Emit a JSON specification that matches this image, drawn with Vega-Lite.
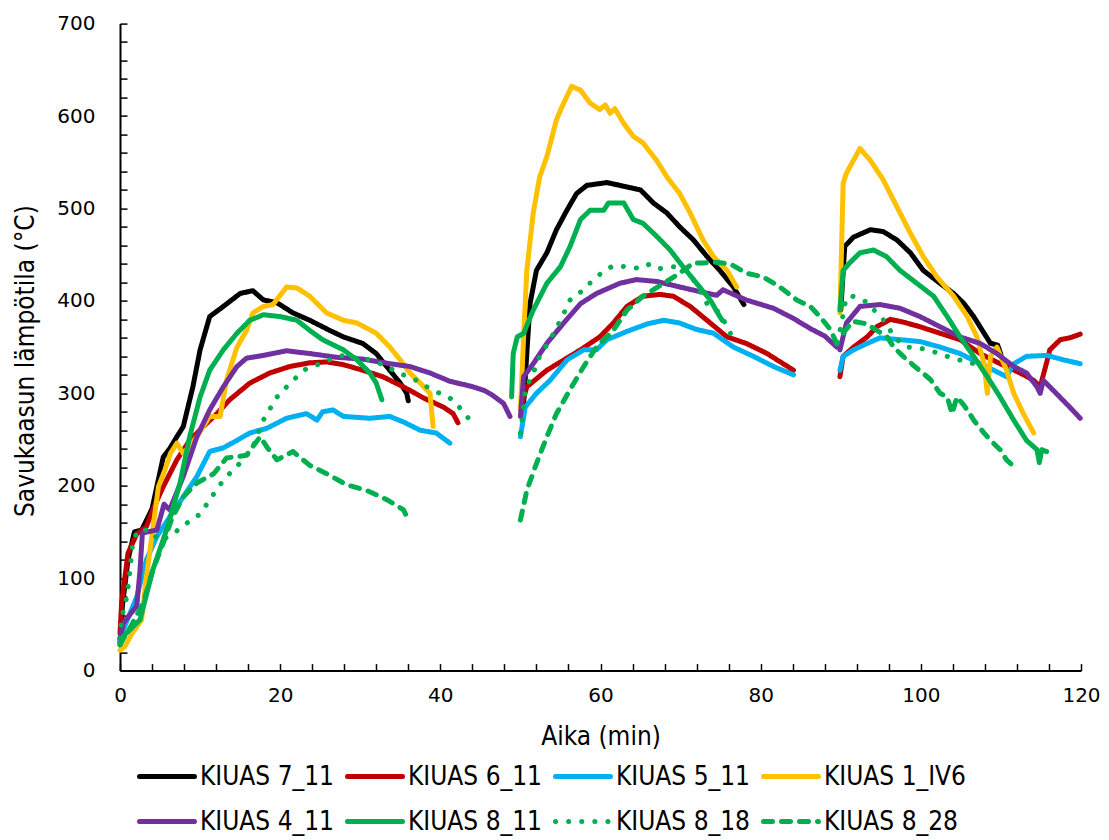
{
"$schema": "https://vega.github.io/schema/vega-lite/v6.json",
"width": 961, "height": 647,
"autosize": "none",
"padding": {"left": 120, "top": 23.6, "right": 28, "bottom": 169.4},
"background": "white",
"config": {"view": {"stroke": null}},
"datasets": {"d": [
{"s":"KIUAS 7_11","g":1,"x":0,"y":30},{"s":"KIUAS 7_11","g":1,"x":0.3,"y":70},{"s":"KIUAS 7_11","g":1,"x":1,"y":120},{"s":"KIUAS 7_11","g":1,"x":1.8,"y":150},{"s":"KIUAS 7_11","g":1,"x":2.7,"y":152},{"s":"KIUAS 7_11","g":1,"x":4,"y":175},{"s":"KIUAS 7_11","g":1,"x":5.4,"y":231},{"s":"KIUAS 7_11","g":1,"x":6.2,"y":240},{"s":"KIUAS 7_11","g":1,"x":7.1,"y":253},{"s":"KIUAS 7_11","g":1,"x":7.9,"y":264},{"s":"KIUAS 7_11","g":1,"x":9.1,"y":307},{"s":"KIUAS 7_11","g":1,"x":10,"y":347},{"s":"KIUAS 7_11","g":1,"x":11.2,"y":383},{"s":"KIUAS 7_11","g":1,"x":12.9,"y":394},{"s":"KIUAS 7_11","g":1,"x":15,"y":408},{"s":"KIUAS 7_11","g":1,"x":16.6,"y":411},{"s":"KIUAS 7_11","g":1,"x":17.9,"y":401},{"s":"KIUAS 7_11","g":1,"x":19.6,"y":398},{"s":"KIUAS 7_11","g":1,"x":21.6,"y":387},{"s":"KIUAS 7_11","g":1,"x":23.7,"y":379},{"s":"KIUAS 7_11","g":1,"x":26.2,"y":368},{"s":"KIUAS 7_11","g":1,"x":27.9,"y":361},{"s":"KIUAS 7_11","g":1,"x":30.3,"y":354},{"s":"KIUAS 7_11","g":1,"x":32,"y":343},{"s":"KIUAS 7_11","g":1,"x":33.3,"y":329},{"s":"KIUAS 7_11","g":1,"x":35,"y":311},{"s":"KIUAS 7_11","g":1,"x":35.8,"y":300},{"s":"KIUAS 7_11","g":1,"x":36,"y":292},
{"s":"KIUAS 7_11","g":2,"x":50.4,"y":289},{"s":"KIUAS 7_11","g":2,"x":50.8,"y":343},{"s":"KIUAS 7_11","g":2,"x":51.2,"y":397},{"s":"KIUAS 7_11","g":2,"x":52,"y":433},{"s":"KIUAS 7_11","g":2,"x":53.3,"y":452},{"s":"KIUAS 7_11","g":2,"x":54.5,"y":477},{"s":"KIUAS 7_11","g":2,"x":55.8,"y":498},{"s":"KIUAS 7_11","g":2,"x":57,"y":516},{"s":"KIUAS 7_11","g":2,"x":58.3,"y":525},{"s":"KIUAS 7_11","g":2,"x":60.8,"y":528},{"s":"KIUAS 7_11","g":2,"x":62.9,"y":524},{"s":"KIUAS 7_11","g":2,"x":65,"y":520},{"s":"KIUAS 7_11","g":2,"x":66.6,"y":506},{"s":"KIUAS 7_11","g":2,"x":68.3,"y":495},{"s":"KIUAS 7_11","g":2,"x":69.9,"y":480},{"s":"KIUAS 7_11","g":2,"x":71.6,"y":466},{"s":"KIUAS 7_11","g":2,"x":73.3,"y":448},{"s":"KIUAS 7_11","g":2,"x":74.9,"y":433},{"s":"KIUAS 7_11","g":2,"x":76.6,"y":415},{"s":"KIUAS 7_11","g":2,"x":77.9,"y":396},
{"s":"KIUAS 7_11","g":3,"x":90,"y":390},{"s":"KIUAS 7_11","g":3,"x":90.5,"y":459},{"s":"KIUAS 7_11","g":3,"x":91.6,"y":469},{"s":"KIUAS 7_11","g":3,"x":93.7,"y":477},{"s":"KIUAS 7_11","g":3,"x":95.3,"y":475},{"s":"KIUAS 7_11","g":3,"x":97,"y":466},{"s":"KIUAS 7_11","g":3,"x":98.7,"y":452},{"s":"KIUAS 7_11","g":3,"x":100.3,"y":433},{"s":"KIUAS 7_11","g":3,"x":102.4,"y":419},{"s":"KIUAS 7_11","g":3,"x":104.1,"y":408},{"s":"KIUAS 7_11","g":3,"x":105.4,"y":397},{"s":"KIUAS 7_11","g":3,"x":106.6,"y":383},{"s":"KIUAS 7_11","g":3,"x":107.9,"y":365},{"s":"KIUAS 7_11","g":3,"x":108.7,"y":354},{"s":"KIUAS 7_11","g":3,"x":109.6,"y":352},{"s":"KIUAS 7_11","g":3,"x":110,"y":342},
{"s":"KIUAS 6_11","g":1,"x":0,"y":40},{"s":"KIUAS 6_11","g":1,"x":0.2,"y":73},{"s":"KIUAS 6_11","g":1,"x":1,"y":127},{"s":"KIUAS 6_11","g":1,"x":2.1,"y":148},{"s":"KIUAS 6_11","g":1,"x":3.3,"y":156},{"s":"KIUAS 6_11","g":1,"x":4.1,"y":174},{"s":"KIUAS 6_11","g":1,"x":5.4,"y":199},{"s":"KIUAS 6_11","g":1,"x":7.1,"y":228},{"s":"KIUAS 6_11","g":1,"x":8.7,"y":249},{"s":"KIUAS 6_11","g":1,"x":10.4,"y":264},{"s":"KIUAS 6_11","g":1,"x":12.1,"y":278},{"s":"KIUAS 6_11","g":1,"x":13.7,"y":293},{"s":"KIUAS 6_11","g":1,"x":16.2,"y":311},{"s":"KIUAS 6_11","g":1,"x":18.7,"y":322},{"s":"KIUAS 6_11","g":1,"x":21.2,"y":329},{"s":"KIUAS 6_11","g":1,"x":23.7,"y":333},{"s":"KIUAS 6_11","g":1,"x":25.8,"y":334},{"s":"KIUAS 6_11","g":1,"x":27.9,"y":331},{"s":"KIUAS 6_11","g":1,"x":30.3,"y":325},{"s":"KIUAS 6_11","g":1,"x":32.8,"y":318},{"s":"KIUAS 6_11","g":1,"x":35.4,"y":307},{"s":"KIUAS 6_11","g":1,"x":37.9,"y":295},{"s":"KIUAS 6_11","g":1,"x":40.4,"y":285},{"s":"KIUAS 6_11","g":1,"x":41.6,"y":278},{"s":"KIUAS 6_11","g":1,"x":42.2,"y":268},
{"s":"KIUAS 6_11","g":2,"x":50.2,"y":289},{"s":"KIUAS 6_11","g":2,"x":50.8,"y":307},{"s":"KIUAS 6_11","g":2,"x":53.3,"y":325},{"s":"KIUAS 6_11","g":2,"x":55.4,"y":336},{"s":"KIUAS 6_11","g":2,"x":57.5,"y":347},{"s":"KIUAS 6_11","g":2,"x":59.9,"y":361},{"s":"KIUAS 6_11","g":2,"x":61.6,"y":376},{"s":"KIUAS 6_11","g":2,"x":63.3,"y":394},{"s":"KIUAS 6_11","g":2,"x":65.3,"y":405},{"s":"KIUAS 6_11","g":2,"x":67.4,"y":407},{"s":"KIUAS 6_11","g":2,"x":69.1,"y":405},{"s":"KIUAS 6_11","g":2,"x":71.2,"y":394},{"s":"KIUAS 6_11","g":2,"x":73.3,"y":379},{"s":"KIUAS 6_11","g":2,"x":75.8,"y":361},{"s":"KIUAS 6_11","g":2,"x":78.2,"y":354},{"s":"KIUAS 6_11","g":2,"x":80.8,"y":343},{"s":"KIUAS 6_11","g":2,"x":84.1,"y":325},
{"s":"KIUAS 6_11","g":3,"x":89.9,"y":318},{"s":"KIUAS 6_11","g":3,"x":90.3,"y":340},{"s":"KIUAS 6_11","g":3,"x":91.6,"y":350},{"s":"KIUAS 6_11","g":3,"x":93.3,"y":361},{"s":"KIUAS 6_11","g":3,"x":94.5,"y":372},{"s":"KIUAS 6_11","g":3,"x":96.2,"y":380},{"s":"KIUAS 6_11","g":3,"x":97.8,"y":377},{"s":"KIUAS 6_11","g":3,"x":99.9,"y":372},{"s":"KIUAS 6_11","g":3,"x":102.4,"y":365},{"s":"KIUAS 6_11","g":3,"x":104.9,"y":358},{"s":"KIUAS 6_11","g":3,"x":107.4,"y":343},{"s":"KIUAS 6_11","g":3,"x":109.9,"y":332},{"s":"KIUAS 6_11","g":3,"x":112.4,"y":322},{"s":"KIUAS 6_11","g":3,"x":114.1,"y":314},{"s":"KIUAS 6_11","g":3,"x":114.9,"y":307},{"s":"KIUAS 6_11","g":3,"x":115.7,"y":333},{"s":"KIUAS 6_11","g":3,"x":116.1,"y":347},{"s":"KIUAS 6_11","g":3,"x":117.4,"y":358},{"s":"KIUAS 6_11","g":3,"x":118.6,"y":360},{"s":"KIUAS 6_11","g":3,"x":119.9,"y":364},
{"s":"KIUAS 5_11","g":1,"x":0,"y":33},{"s":"KIUAS 5_11","g":1,"x":0.4,"y":44},{"s":"KIUAS 5_11","g":1,"x":2.1,"y":80},{"s":"KIUAS 5_11","g":1,"x":3.3,"y":120},{"s":"KIUAS 5_11","g":1,"x":4.6,"y":145},{"s":"KIUAS 5_11","g":1,"x":6.2,"y":166},{"s":"KIUAS 5_11","g":1,"x":7.9,"y":188},{"s":"KIUAS 5_11","g":1,"x":9.6,"y":210},{"s":"KIUAS 5_11","g":1,"x":11.2,"y":237},{"s":"KIUAS 5_11","g":1,"x":12.9,"y":241},{"s":"KIUAS 5_11","g":1,"x":14.6,"y":249},{"s":"KIUAS 5_11","g":1,"x":16.2,"y":257},{"s":"KIUAS 5_11","g":1,"x":18.3,"y":262},{"s":"KIUAS 5_11","g":1,"x":20.8,"y":273},{"s":"KIUAS 5_11","g":1,"x":23.3,"y":278},{"s":"KIUAS 5_11","g":1,"x":24.6,"y":271},{"s":"KIUAS 5_11","g":1,"x":25.3,"y":280},{"s":"KIUAS 5_11","g":1,"x":26.6,"y":282},{"s":"KIUAS 5_11","g":1,"x":27.9,"y":275},{"s":"KIUAS 5_11","g":1,"x":31.2,"y":273},{"s":"KIUAS 5_11","g":1,"x":33.7,"y":275},{"s":"KIUAS 5_11","g":1,"x":35.4,"y":269},{"s":"KIUAS 5_11","g":1,"x":37.5,"y":260},{"s":"KIUAS 5_11","g":1,"x":39.5,"y":257},{"s":"KIUAS 5_11","g":1,"x":41.2,"y":246},
{"s":"KIUAS 5_11","g":2,"x":50,"y":253},{"s":"KIUAS 5_11","g":2,"x":50.6,"y":285},{"s":"KIUAS 5_11","g":2,"x":52,"y":300},{"s":"KIUAS 5_11","g":2,"x":53.7,"y":314},{"s":"KIUAS 5_11","g":2,"x":55.8,"y":336},{"s":"KIUAS 5_11","g":2,"x":57.9,"y":347},{"s":"KIUAS 5_11","g":2,"x":59.5,"y":347},{"s":"KIUAS 5_11","g":2,"x":60.8,"y":358},{"s":"KIUAS 5_11","g":2,"x":63.3,"y":367},{"s":"KIUAS 5_11","g":2,"x":65.8,"y":375},{"s":"KIUAS 5_11","g":2,"x":67.9,"y":379},{"s":"KIUAS 5_11","g":2,"x":69.9,"y":376},{"s":"KIUAS 5_11","g":2,"x":72,"y":369},{"s":"KIUAS 5_11","g":2,"x":74.1,"y":365},{"s":"KIUAS 5_11","g":2,"x":76.6,"y":350},{"s":"KIUAS 5_11","g":2,"x":79.1,"y":340},{"s":"KIUAS 5_11","g":2,"x":81.6,"y":329},{"s":"KIUAS 5_11","g":2,"x":84.1,"y":320},
{"s":"KIUAS 5_11","g":3,"x":89.9,"y":325},{"s":"KIUAS 5_11","g":3,"x":90.3,"y":340},{"s":"KIUAS 5_11","g":3,"x":91.6,"y":347},{"s":"KIUAS 5_11","g":3,"x":93.3,"y":354},{"s":"KIUAS 5_11","g":3,"x":94.9,"y":360},{"s":"KIUAS 5_11","g":3,"x":97.4,"y":358},{"s":"KIUAS 5_11","g":3,"x":99.9,"y":356},{"s":"KIUAS 5_11","g":3,"x":102.4,"y":350},{"s":"KIUAS 5_11","g":3,"x":104.9,"y":343},{"s":"KIUAS 5_11","g":3,"x":107.4,"y":332},{"s":"KIUAS 5_11","g":3,"x":109.1,"y":325},{"s":"KIUAS 5_11","g":3,"x":110.7,"y":318},{"s":"KIUAS 5_11","g":3,"x":111.6,"y":332},{"s":"KIUAS 5_11","g":3,"x":113.2,"y":340},{"s":"KIUAS 5_11","g":3,"x":115.7,"y":341},{"s":"KIUAS 5_11","g":3,"x":117.9,"y":336},{"s":"KIUAS 5_11","g":3,"x":119.9,"y":332},
{"s":"KIUAS 1_IV6","g":1,"x":0,"y":22},{"s":"KIUAS 1_IV6","g":1,"x":0.6,"y":26},{"s":"KIUAS 1_IV6","g":1,"x":1.5,"y":40},{"s":"KIUAS 1_IV6","g":1,"x":2.7,"y":55},{"s":"KIUAS 1_IV6","g":1,"x":3.2,"y":95},{"s":"KIUAS 1_IV6","g":1,"x":3.7,"y":127},{"s":"KIUAS 1_IV6","g":1,"x":4.2,"y":160},{"s":"KIUAS 1_IV6","g":1,"x":4.8,"y":199},{"s":"KIUAS 1_IV6","g":1,"x":5.6,"y":217},{"s":"KIUAS 1_IV6","g":1,"x":6.3,"y":235},{"s":"KIUAS 1_IV6","g":1,"x":7.1,"y":246},{"s":"KIUAS 1_IV6","g":1,"x":7.9,"y":235},{"s":"KIUAS 1_IV6","g":1,"x":9.6,"y":253},{"s":"KIUAS 1_IV6","g":1,"x":11.2,"y":275},{"s":"KIUAS 1_IV6","g":1,"x":12.5,"y":275},{"s":"KIUAS 1_IV6","g":1,"x":13.3,"y":314},{"s":"KIUAS 1_IV6","g":1,"x":14.6,"y":350},{"s":"KIUAS 1_IV6","g":1,"x":15.8,"y":368},{"s":"KIUAS 1_IV6","g":1,"x":16.6,"y":387},{"s":"KIUAS 1_IV6","g":1,"x":17.9,"y":394},{"s":"KIUAS 1_IV6","g":1,"x":19.1,"y":396},{"s":"KIUAS 1_IV6","g":1,"x":20.8,"y":415},{"s":"KIUAS 1_IV6","g":1,"x":22.1,"y":414},{"s":"KIUAS 1_IV6","g":1,"x":23.7,"y":405},{"s":"KIUAS 1_IV6","g":1,"x":25.8,"y":387},{"s":"KIUAS 1_IV6","g":1,"x":27.9,"y":379},{"s":"KIUAS 1_IV6","g":1,"x":29.6,"y":376},{"s":"KIUAS 1_IV6","g":1,"x":32,"y":365},{"s":"KIUAS 1_IV6","g":1,"x":33.7,"y":350},{"s":"KIUAS 1_IV6","g":1,"x":35,"y":336},{"s":"KIUAS 1_IV6","g":1,"x":36.2,"y":322},{"s":"KIUAS 1_IV6","g":1,"x":37.5,"y":311},{"s":"KIUAS 1_IV6","g":1,"x":38.7,"y":300},{"s":"KIUAS 1_IV6","g":1,"x":39.1,"y":264},
{"s":"KIUAS 1_IV6","g":2,"x":50,"y":282},{"s":"KIUAS 1_IV6","g":2,"x":50.4,"y":361},{"s":"KIUAS 1_IV6","g":2,"x":50.8,"y":433},{"s":"KIUAS 1_IV6","g":2,"x":51.6,"y":495},{"s":"KIUAS 1_IV6","g":2,"x":52.4,"y":534},{"s":"KIUAS 1_IV6","g":2,"x":53.3,"y":556},{"s":"KIUAS 1_IV6","g":2,"x":54.5,"y":596},{"s":"KIUAS 1_IV6","g":2,"x":55.4,"y":614},{"s":"KIUAS 1_IV6","g":2,"x":56.4,"y":632},{"s":"KIUAS 1_IV6","g":2,"x":57.5,"y":628},{"s":"KIUAS 1_IV6","g":2,"x":58.7,"y":614},{"s":"KIUAS 1_IV6","g":2,"x":59.9,"y":607},{"s":"KIUAS 1_IV6","g":2,"x":60.6,"y":612},{"s":"KIUAS 1_IV6","g":2,"x":61.2,"y":603},{"s":"KIUAS 1_IV6","g":2,"x":61.8,"y":608},{"s":"KIUAS 1_IV6","g":2,"x":62.9,"y":592},{"s":"KIUAS 1_IV6","g":2,"x":64.1,"y":578},{"s":"KIUAS 1_IV6","g":2,"x":65.3,"y":571},{"s":"KIUAS 1_IV6","g":2,"x":67,"y":552},{"s":"KIUAS 1_IV6","g":2,"x":68.3,"y":534},{"s":"KIUAS 1_IV6","g":2,"x":69.9,"y":516},{"s":"KIUAS 1_IV6","g":2,"x":71.2,"y":495},{"s":"KIUAS 1_IV6","g":2,"x":72.8,"y":466},{"s":"KIUAS 1_IV6","g":2,"x":74.1,"y":448},{"s":"KIUAS 1_IV6","g":2,"x":75.8,"y":433},{"s":"KIUAS 1_IV6","g":2,"x":77,"y":415},
{"s":"KIUAS 1_IV6","g":3,"x":89.9,"y":387},{"s":"KIUAS 1_IV6","g":3,"x":90.3,"y":527},{"s":"KIUAS 1_IV6","g":3,"x":90.7,"y":538},{"s":"KIUAS 1_IV6","g":3,"x":92.4,"y":565},{"s":"KIUAS 1_IV6","g":3,"x":93.7,"y":552},{"s":"KIUAS 1_IV6","g":3,"x":95.3,"y":531},{"s":"KIUAS 1_IV6","g":3,"x":97,"y":502},{"s":"KIUAS 1_IV6","g":3,"x":98.7,"y":473},{"s":"KIUAS 1_IV6","g":3,"x":100.3,"y":448},{"s":"KIUAS 1_IV6","g":3,"x":102,"y":426},{"s":"KIUAS 1_IV6","g":3,"x":104.1,"y":405},{"s":"KIUAS 1_IV6","g":3,"x":105.8,"y":383},{"s":"KIUAS 1_IV6","g":3,"x":107,"y":361},{"s":"KIUAS 1_IV6","g":3,"x":107.9,"y":332},{"s":"KIUAS 1_IV6","g":3,"x":108.3,"y":300},{"s":"KIUAS 1_IV6","g":3,"x":108.7,"y":340},{"s":"KIUAS 1_IV6","g":3,"x":109.5,"y":350},{"s":"KIUAS 1_IV6","g":3,"x":110.7,"y":325},{"s":"KIUAS 1_IV6","g":3,"x":111.6,"y":300},{"s":"KIUAS 1_IV6","g":3,"x":112.8,"y":278},{"s":"KIUAS 1_IV6","g":3,"x":114.1,"y":257},
{"s":"KIUAS 4_11","g":1,"x":0,"y":35},{"s":"KIUAS 4_11","g":1,"x":0.4,"y":51},{"s":"KIUAS 4_11","g":1,"x":1,"y":58},{"s":"KIUAS 4_11","g":1,"x":2.1,"y":70},{"s":"KIUAS 4_11","g":1,"x":2.5,"y":109},{"s":"KIUAS 4_11","g":1,"x":2.8,"y":149},{"s":"KIUAS 4_11","g":1,"x":4.6,"y":152},{"s":"KIUAS 4_11","g":1,"x":5.5,"y":180},{"s":"KIUAS 4_11","g":1,"x":6.2,"y":174},{"s":"KIUAS 4_11","g":1,"x":7.9,"y":210},{"s":"KIUAS 4_11","g":1,"x":9.6,"y":253},{"s":"KIUAS 4_11","g":1,"x":11.2,"y":282},{"s":"KIUAS 4_11","g":1,"x":12.9,"y":307},{"s":"KIUAS 4_11","g":1,"x":14.6,"y":329},{"s":"KIUAS 4_11","g":1,"x":15.8,"y":338},{"s":"KIUAS 4_11","g":1,"x":17.9,"y":341},{"s":"KIUAS 4_11","g":1,"x":20.8,"y":346},{"s":"KIUAS 4_11","g":1,"x":23.7,"y":343},{"s":"KIUAS 4_11","g":1,"x":27,"y":339},{"s":"KIUAS 4_11","g":1,"x":30.3,"y":337},{"s":"KIUAS 4_11","g":1,"x":33.7,"y":332},{"s":"KIUAS 4_11","g":1,"x":36.2,"y":329},{"s":"KIUAS 4_11","g":1,"x":38.7,"y":322},{"s":"KIUAS 4_11","g":1,"x":41.2,"y":313},{"s":"KIUAS 4_11","g":1,"x":44.1,"y":307},{"s":"KIUAS 4_11","g":1,"x":45.5,"y":303},{"s":"KIUAS 4_11","g":1,"x":46.5,"y":298},{"s":"KIUAS 4_11","g":1,"x":47.9,"y":289},{"s":"KIUAS 4_11","g":1,"x":48.7,"y":275},
{"s":"KIUAS 4_11","g":2,"x":50,"y":275},{"s":"KIUAS 4_11","g":2,"x":50.4,"y":318},{"s":"KIUAS 4_11","g":2,"x":51.6,"y":332},{"s":"KIUAS 4_11","g":2,"x":53.3,"y":354},{"s":"KIUAS 4_11","g":2,"x":55.4,"y":376},{"s":"KIUAS 4_11","g":2,"x":57.5,"y":397},{"s":"KIUAS 4_11","g":2,"x":59.5,"y":408},{"s":"KIUAS 4_11","g":2,"x":62.4,"y":419},{"s":"KIUAS 4_11","g":2,"x":64.5,"y":423},{"s":"KIUAS 4_11","g":2,"x":67,"y":421},{"s":"KIUAS 4_11","g":2,"x":69.9,"y":415},{"s":"KIUAS 4_11","g":2,"x":72.4,"y":410},{"s":"KIUAS 4_11","g":2,"x":74.5,"y":406},{"s":"KIUAS 4_11","g":2,"x":75.3,"y":412},{"s":"KIUAS 4_11","g":2,"x":78.2,"y":401},{"s":"KIUAS 4_11","g":2,"x":81.6,"y":392},{"s":"KIUAS 4_11","g":2,"x":84.1,"y":381},{"s":"KIUAS 4_11","g":2,"x":86.2,"y":370},{"s":"KIUAS 4_11","g":2,"x":88,"y":362},{"s":"KIUAS 4_11","g":2,"x":89.5,"y":350},
{"s":"KIUAS 4_11","g":3,"x":89.9,"y":347},{"s":"KIUAS 4_11","g":3,"x":90.7,"y":376},{"s":"KIUAS 4_11","g":3,"x":92.4,"y":394},{"s":"KIUAS 4_11","g":3,"x":94.9,"y":396},{"s":"KIUAS 4_11","g":3,"x":97.4,"y":392},{"s":"KIUAS 4_11","g":3,"x":99.9,"y":383},{"s":"KIUAS 4_11","g":3,"x":102.4,"y":372},{"s":"KIUAS 4_11","g":3,"x":104.9,"y":361},{"s":"KIUAS 4_11","g":3,"x":107.4,"y":354},{"s":"KIUAS 4_11","g":3,"x":109.5,"y":343},{"s":"KIUAS 4_11","g":3,"x":111.6,"y":329},{"s":"KIUAS 4_11","g":3,"x":113.2,"y":322},{"s":"KIUAS 4_11","g":3,"x":114.5,"y":307},{"s":"KIUAS 4_11","g":3,"x":114.9,"y":300},{"s":"KIUAS 4_11","g":3,"x":115.3,"y":314},{"s":"KIUAS 4_11","g":3,"x":116.9,"y":300},{"s":"KIUAS 4_11","g":3,"x":118.6,"y":285},{"s":"KIUAS 4_11","g":3,"x":119.9,"y":273},
{"s":"KIUAS 8_11","g":1,"x":0,"y":28},{"s":"KIUAS 8_11","g":1,"x":0.4,"y":37},{"s":"KIUAS 8_11","g":1,"x":2.5,"y":55},{"s":"KIUAS 8_11","g":1,"x":4.1,"y":109},{"s":"KIUAS 8_11","g":1,"x":5.8,"y":152},{"s":"KIUAS 8_11","g":1,"x":7.5,"y":203},{"s":"KIUAS 8_11","g":1,"x":8.7,"y":253},{"s":"KIUAS 8_11","g":1,"x":10,"y":296},{"s":"KIUAS 8_11","g":1,"x":11.2,"y":325},{"s":"KIUAS 8_11","g":1,"x":12.9,"y":347},{"s":"KIUAS 8_11","g":1,"x":14.6,"y":365},{"s":"KIUAS 8_11","g":1,"x":16.2,"y":379},{"s":"KIUAS 8_11","g":1,"x":17.9,"y":385},{"s":"KIUAS 8_11","g":1,"x":20,"y":383},{"s":"KIUAS 8_11","g":1,"x":22.1,"y":379},{"s":"KIUAS 8_11","g":1,"x":23.7,"y":368},{"s":"KIUAS 8_11","g":1,"x":25.3,"y":358},{"s":"KIUAS 8_11","g":1,"x":27.9,"y":347},{"s":"KIUAS 8_11","g":1,"x":29.6,"y":336},{"s":"KIUAS 8_11","g":1,"x":31.2,"y":322},{"s":"KIUAS 8_11","g":1,"x":32,"y":311},{"s":"KIUAS 8_11","g":1,"x":32.7,"y":293},
{"s":"KIUAS 8_11","g":2,"x":48.9,"y":296},{"s":"KIUAS 8_11","g":2,"x":49.1,"y":343},{"s":"KIUAS 8_11","g":2,"x":49.6,"y":361},{"s":"KIUAS 8_11","g":2,"x":50.4,"y":365},{"s":"KIUAS 8_11","g":2,"x":51.6,"y":390},{"s":"KIUAS 8_11","g":2,"x":53.3,"y":419},{"s":"KIUAS 8_11","g":2,"x":55,"y":437},{"s":"KIUAS 8_11","g":2,"x":56.2,"y":459},{"s":"KIUAS 8_11","g":2,"x":57.5,"y":488},{"s":"KIUAS 8_11","g":2,"x":58.7,"y":498},{"s":"KIUAS 8_11","g":2,"x":60.4,"y":498},{"s":"KIUAS 8_11","g":2,"x":61,"y":506},{"s":"KIUAS 8_11","g":2,"x":62.9,"y":506},{"s":"KIUAS 8_11","g":2,"x":64.1,"y":488},{"s":"KIUAS 8_11","g":2,"x":65.3,"y":484},{"s":"KIUAS 8_11","g":2,"x":67,"y":470},{"s":"KIUAS 8_11","g":2,"x":68.7,"y":455},{"s":"KIUAS 8_11","g":2,"x":70.3,"y":437},{"s":"KIUAS 8_11","g":2,"x":72,"y":419},{"s":"KIUAS 8_11","g":2,"x":73.7,"y":401},{"s":"KIUAS 8_11","g":2,"x":74.9,"y":383},{"s":"KIUAS 8_11","g":2,"x":75.2,"y":379},
{"s":"KIUAS 8_11","g":3,"x":89.9,"y":390},{"s":"KIUAS 8_11","g":3,"x":90.3,"y":433},{"s":"KIUAS 8_11","g":3,"x":91.1,"y":441},{"s":"KIUAS 8_11","g":3,"x":92.4,"y":452},{"s":"KIUAS 8_11","g":3,"x":94.1,"y":455},{"s":"KIUAS 8_11","g":3,"x":95.7,"y":448},{"s":"KIUAS 8_11","g":3,"x":97.4,"y":433},{"s":"KIUAS 8_11","g":3,"x":99.5,"y":419},{"s":"KIUAS 8_11","g":3,"x":101.6,"y":405},{"s":"KIUAS 8_11","g":3,"x":103.3,"y":383},{"s":"KIUAS 8_11","g":3,"x":104.9,"y":361},{"s":"KIUAS 8_11","g":3,"x":106.6,"y":340},{"s":"KIUAS 8_11","g":3,"x":108.3,"y":318},{"s":"KIUAS 8_11","g":3,"x":109.9,"y":296},{"s":"KIUAS 8_11","g":3,"x":111.6,"y":271},{"s":"KIUAS 8_11","g":3,"x":113.2,"y":249},{"s":"KIUAS 8_11","g":3,"x":114.5,"y":239},{"s":"KIUAS 8_11","g":3,"x":114.8,"y":225},{"s":"KIUAS 8_11","g":3,"x":115.1,"y":239},{"s":"KIUAS 8_11","g":3,"x":115.7,"y":237},
{"s":"KIUAS 8_18","g":1,"x":0,"y":35},{"s":"KIUAS 8_18","g":1,"x":0.2,"y":58},{"s":"KIUAS 8_18","g":1,"x":0.7,"y":73},{"s":"KIUAS 8_18","g":1,"x":1,"y":89},{"s":"KIUAS 8_18","g":1,"x":1.2,"y":105},{"s":"KIUAS 8_18","g":1,"x":1.4,"y":122},{"s":"KIUAS 8_18","g":1,"x":1.6,"y":138},{"s":"KIUAS 8_18","g":1,"x":2.2,"y":152},{"s":"KIUAS 8_18","g":1,"x":3.7,"y":152},{"s":"KIUAS 8_18","g":1,"x":5,"y":140},{"s":"KIUAS 8_18","g":1,"x":6.8,"y":149},{"s":"KIUAS 8_18","g":1,"x":7.9,"y":157},{"s":"KIUAS 8_18","g":1,"x":9.1,"y":164},{"s":"KIUAS 8_18","g":1,"x":10.1,"y":170},{"s":"KIUAS 8_18","g":1,"x":11.2,"y":185},{"s":"KIUAS 8_18","g":1,"x":12.9,"y":206},{"s":"KIUAS 8_18","g":1,"x":14.1,"y":217},{"s":"KIUAS 8_18","g":1,"x":15.4,"y":228},{"s":"KIUAS 8_18","g":1,"x":16.6,"y":242},{"s":"KIUAS 8_18","g":1,"x":17.9,"y":271},{"s":"KIUAS 8_18","g":1,"x":19.6,"y":296},{"s":"KIUAS 8_18","g":1,"x":20.8,"y":307},{"s":"KIUAS 8_18","g":1,"x":22.1,"y":318},{"s":"KIUAS 8_18","g":1,"x":23.3,"y":327},{"s":"KIUAS 8_18","g":1,"x":25,"y":332},{"s":"KIUAS 8_18","g":1,"x":27.5,"y":341},{"s":"KIUAS 8_18","g":1,"x":29.6,"y":338},{"s":"KIUAS 8_18","g":1,"x":31.6,"y":336},{"s":"KIUAS 8_18","g":1,"x":33.7,"y":327},{"s":"KIUAS 8_18","g":1,"x":35.4,"y":320},{"s":"KIUAS 8_18","g":1,"x":37,"y":314},{"s":"KIUAS 8_18","g":1,"x":38.7,"y":305},{"s":"KIUAS 8_18","g":1,"x":40.4,"y":298},{"s":"KIUAS 8_18","g":1,"x":41.6,"y":293},{"s":"KIUAS 8_18","g":1,"x":43.7,"y":271},
{"s":"KIUAS 8_18","g":2,"x":50,"y":257},{"s":"KIUAS 8_18","g":2,"x":50.2,"y":271},{"s":"KIUAS 8_18","g":2,"x":50.6,"y":304},{"s":"KIUAS 8_18","g":2,"x":51.6,"y":322},{"s":"KIUAS 8_18","g":2,"x":52.4,"y":340},{"s":"KIUAS 8_18","g":2,"x":53.7,"y":358},{"s":"KIUAS 8_18","g":2,"x":55,"y":379},{"s":"KIUAS 8_18","g":2,"x":56.2,"y":401},{"s":"KIUAS 8_18","g":2,"x":57.9,"y":412},{"s":"KIUAS 8_18","g":2,"x":59.1,"y":423},{"s":"KIUAS 8_18","g":2,"x":60.4,"y":432},{"s":"KIUAS 8_18","g":2,"x":61.6,"y":438},{"s":"KIUAS 8_18","g":2,"x":63.3,"y":437},{"s":"KIUAS 8_18","g":2,"x":64.9,"y":435},{"s":"KIUAS 8_18","g":2,"x":66.2,"y":440},{"s":"KIUAS 8_18","g":2,"x":67.4,"y":435},{"s":"KIUAS 8_18","g":2,"x":69.1,"y":437},{"s":"KIUAS 8_18","g":2,"x":70.8,"y":433},{"s":"KIUAS 8_18","g":2,"x":71.6,"y":423},{"s":"KIUAS 8_18","g":2,"x":73.3,"y":397},{"s":"KIUAS 8_18","g":2,"x":74.9,"y":387},{"s":"KIUAS 8_18","g":2,"x":75.8,"y":372},{"s":"KIUAS 8_18","g":2,"x":76.6,"y":358},
{"s":"KIUAS 8_18","g":3,"x":89.6,"y":355},{"s":"KIUAS 8_18","g":3,"x":90.1,"y":376},{"s":"KIUAS 8_18","g":3,"x":90.6,"y":400},{"s":"KIUAS 8_18","g":3,"x":91.2,"y":406},{"s":"KIUAS 8_18","g":3,"x":93.2,"y":399},{"s":"KIUAS 8_18","g":3,"x":94.5,"y":387},{"s":"KIUAS 8_18","g":3,"x":95.7,"y":376},{"s":"KIUAS 8_18","g":3,"x":96.6,"y":361},{"s":"KIUAS 8_18","g":3,"x":98.2,"y":350},{"s":"KIUAS 8_18","g":3,"x":99.9,"y":349},{"s":"KIUAS 8_18","g":3,"x":101.6,"y":345},{"s":"KIUAS 8_18","g":3,"x":103.3,"y":340},{"s":"KIUAS 8_18","g":3,"x":104.9,"y":336},{"s":"KIUAS 8_18","g":3,"x":106.6,"y":332},{"s":"KIUAS 8_18","g":3,"x":107,"y":322},
{"s":"KIUAS 8_28","g":1,"x":0,"y":28},{"s":"KIUAS 8_28","g":1,"x":0.5,"y":36},{"s":"KIUAS 8_28","g":1,"x":1.3,"y":47},{"s":"KIUAS 8_28","g":1,"x":2.9,"y":73},{"s":"KIUAS 8_28","g":1,"x":4.1,"y":109},{"s":"KIUAS 8_28","g":1,"x":5.4,"y":138},{"s":"KIUAS 8_28","g":1,"x":6.5,"y":165},{"s":"KIUAS 8_28","g":1,"x":7.9,"y":188},{"s":"KIUAS 8_28","g":1,"x":9.6,"y":203},{"s":"KIUAS 8_28","g":1,"x":11.7,"y":213},{"s":"KIUAS 8_28","g":1,"x":13.3,"y":230},{"s":"KIUAS 8_28","g":1,"x":15.8,"y":233},{"s":"KIUAS 8_28","g":1,"x":17.5,"y":253},{"s":"KIUAS 8_28","g":1,"x":18.5,"y":240},{"s":"KIUAS 8_28","g":1,"x":19.6,"y":228},{"s":"KIUAS 8_28","g":1,"x":21.6,"y":237},{"s":"KIUAS 8_28","g":1,"x":23.7,"y":222},{"s":"KIUAS 8_28","g":1,"x":25.8,"y":213},{"s":"KIUAS 8_28","g":1,"x":28.3,"y":201},{"s":"KIUAS 8_28","g":1,"x":30.8,"y":195},{"s":"KIUAS 8_28","g":1,"x":33.3,"y":185},{"s":"KIUAS 8_28","g":1,"x":35.4,"y":174},{"s":"KIUAS 8_28","g":1,"x":36,"y":163},
{"s":"KIUAS 8_28","g":2,"x":50,"y":163},{"s":"KIUAS 8_28","g":2,"x":50.8,"y":195},{"s":"KIUAS 8_28","g":2,"x":52,"y":224},{"s":"KIUAS 8_28","g":2,"x":53.3,"y":253},{"s":"KIUAS 8_28","g":2,"x":54.5,"y":278},{"s":"KIUAS 8_28","g":2,"x":56.2,"y":304},{"s":"KIUAS 8_28","g":2,"x":57.9,"y":329},{"s":"KIUAS 8_28","g":2,"x":59.5,"y":350},{"s":"KIUAS 8_28","g":2,"x":61.6,"y":368},{"s":"KIUAS 8_28","g":2,"x":63.3,"y":390},{"s":"KIUAS 8_28","g":2,"x":65.3,"y":405},{"s":"KIUAS 8_28","g":2,"x":67.9,"y":419},{"s":"KIUAS 8_28","g":2,"x":69.9,"y":430},{"s":"KIUAS 8_28","g":2,"x":71.6,"y":441},{"s":"KIUAS 8_28","g":2,"x":72.8,"y":441},{"s":"KIUAS 8_28","g":2,"x":74.1,"y":442},{"s":"KIUAS 8_28","g":2,"x":76.2,"y":440},{"s":"KIUAS 8_28","g":2,"x":78.2,"y":430},{"s":"KIUAS 8_28","g":2,"x":80.3,"y":426},{"s":"KIUAS 8_28","g":2,"x":82.4,"y":415},{"s":"KIUAS 8_28","g":2,"x":84.5,"y":401},{"s":"KIUAS 8_28","g":2,"x":86.2,"y":394},{"s":"KIUAS 8_28","g":2,"x":87.4,"y":383},{"s":"KIUAS 8_28","g":2,"x":88.7,"y":369},{"s":"KIUAS 8_28","g":2,"x":89.6,"y":352},
{"s":"KIUAS 8_28","g":3,"x":90.3,"y":365},{"s":"KIUAS 8_28","g":3,"x":91.5,"y":378},{"s":"KIUAS 8_28","g":3,"x":93.3,"y":375},{"s":"KIUAS 8_28","g":3,"x":94.5,"y":368},{"s":"KIUAS 8_28","g":3,"x":95.8,"y":361},{"s":"KIUAS 8_28","g":3,"x":96.6,"y":350},{"s":"KIUAS 8_28","g":3,"x":97.8,"y":340},{"s":"KIUAS 8_28","g":3,"x":99.1,"y":330},{"s":"KIUAS 8_28","g":3,"x":101.2,"y":315},{"s":"KIUAS 8_28","g":3,"x":102.4,"y":300},{"s":"KIUAS 8_28","g":3,"x":103.3,"y":296},{"s":"KIUAS 8_28","g":3,"x":103.9,"y":278},{"s":"KIUAS 8_28","g":3,"x":104.5,"y":296},{"s":"KIUAS 8_28","g":3,"x":105.3,"y":288},{"s":"KIUAS 8_28","g":3,"x":105.8,"y":282},{"s":"KIUAS 8_28","g":3,"x":106.6,"y":271},{"s":"KIUAS 8_28","g":3,"x":107.9,"y":257},{"s":"KIUAS 8_28","g":3,"x":108.7,"y":249},{"s":"KIUAS 8_28","g":3,"x":109.9,"y":239},{"s":"KIUAS 8_28","g":3,"x":110.7,"y":228},{"s":"KIUAS 8_28","g":3,"x":111.6,"y":221}
]},
"data": {"name": "d"},
"mark": {"type": "line", "strokeCap": "round", "strokeJoin": "round"},
"encoding": {
  "x": {"field": "x", "type": "quantitative", "scale": {"domain": [0, 120], "nice": false},
    "axis": {"title": "Aika (min)", "values": [0,4,8,12,16,20,24,28,32,36,40,44,48,52,56,60,64,68,72,76,80,84,88,92,96,100,104,108,112,116,120],
      "labelExpr": "datum.value % 20 === 0 ? datum.label : ''", "grid": false, "tickSize": -7, "tickWidth": 1.5, "tickColor": "black",
      "domainColor": "black", "domainWidth": 2, "labelFont": "DejaVu Sans", "labelFontSize": 20, "labelColor": "black", "labelPadding": 22,
      "labelFlush": false, "labelOverlap": false,
      "titleFont": "DejaVu Sans Condensed, Liberation Sans Narrow, Liberation Sans, sans-serif", "titleFontSize": 26, "titleFontWeight": "normal", "titleColor": "black", "titlePadding": 18}},
  "y": {"field": "y", "type": "quantitative", "scale": {"domain": [0, 700], "nice": false},
    "axis": {"title": "Savukaasun lämpötila (°C)", "values": [0,20,40,60,80,100,120,140,160,180,200,220,240,260,280,300,320,340,360,380,400,420,440,460,480,500,520,540,560,580,600,620,640,660,680,700],
      "labelExpr": "datum.value % 100 === 0 ? datum.label : ''", "grid": false, "tickSize": -7, "tickWidth": 1.5, "tickColor": "black",
      "domainColor": "black", "domainWidth": 2, "labelFont": "DejaVu Sans", "labelFontSize": 20, "labelColor": "black", "labelPadding": 32,
      "labelFlush": false, "labelOverlap": false, "titleY": 337,
      "titleFont": "DejaVu Sans Condensed, Liberation Sans Narrow, Liberation Sans, sans-serif", "titleFontSize": 26, "titleFontWeight": "normal", "titleColor": "black", "titlePadding": 18}},
  "detail": {"field": "g"},
  "color": {"field": "s", "type": "nominal",
    "scale": {"domain": ["KIUAS 7_11","KIUAS 6_11","KIUAS 5_11","KIUAS 1_IV6","KIUAS 4_11","KIUAS 8_11","KIUAS 8_18","KIUAS 8_28"],
      "range": ["#000000","#C00000","#00B0F0","#FFC000","#7030A0","#00B050","#00B050","#00B050"]},
    "legend": {"title": null, "orient": "none", "legendX": 17, "legendY": 723, "columns": 4, "direction": "horizontal",
      "symbolType": "stroke", "symbolSize": 3025, "symbolStrokeWidth": 5, "labelFont": "DejaVu Sans Condensed, Liberation Sans Narrow, Liberation Sans, sans-serif", "labelFontSize": 26,
      "labelColor": "black", "labelOffset": 3, "columnPadding": 3, "rowPadding": 2, "labelLimit": 400,
      "encode": {"symbols": {"update": {"strokeCap": {"value": "round"}}}}}},
  "strokeDash": {"field": "s", "type": "nominal",
    "scale": {"domain": ["KIUAS 7_11","KIUAS 6_11","KIUAS 5_11","KIUAS 1_IV6","KIUAS 4_11","KIUAS 8_11","KIUAS 8_18","KIUAS 8_28"],
      "range": [[1,0],[1,0],[1,0],[1,0],[1,0],[1,0],[0.1,13],[9,9]]}},
  "strokeWidth": {"field": "s", "type": "nominal", "legend": null,
    "scale": {"domain": ["KIUAS 7_11","KIUAS 6_11","KIUAS 5_11","KIUAS 1_IV6","KIUAS 4_11","KIUAS 8_11","KIUAS 8_18","KIUAS 8_28"],
      "range": [5,5,5,5,5,5,6.5,5]}}
}
}
